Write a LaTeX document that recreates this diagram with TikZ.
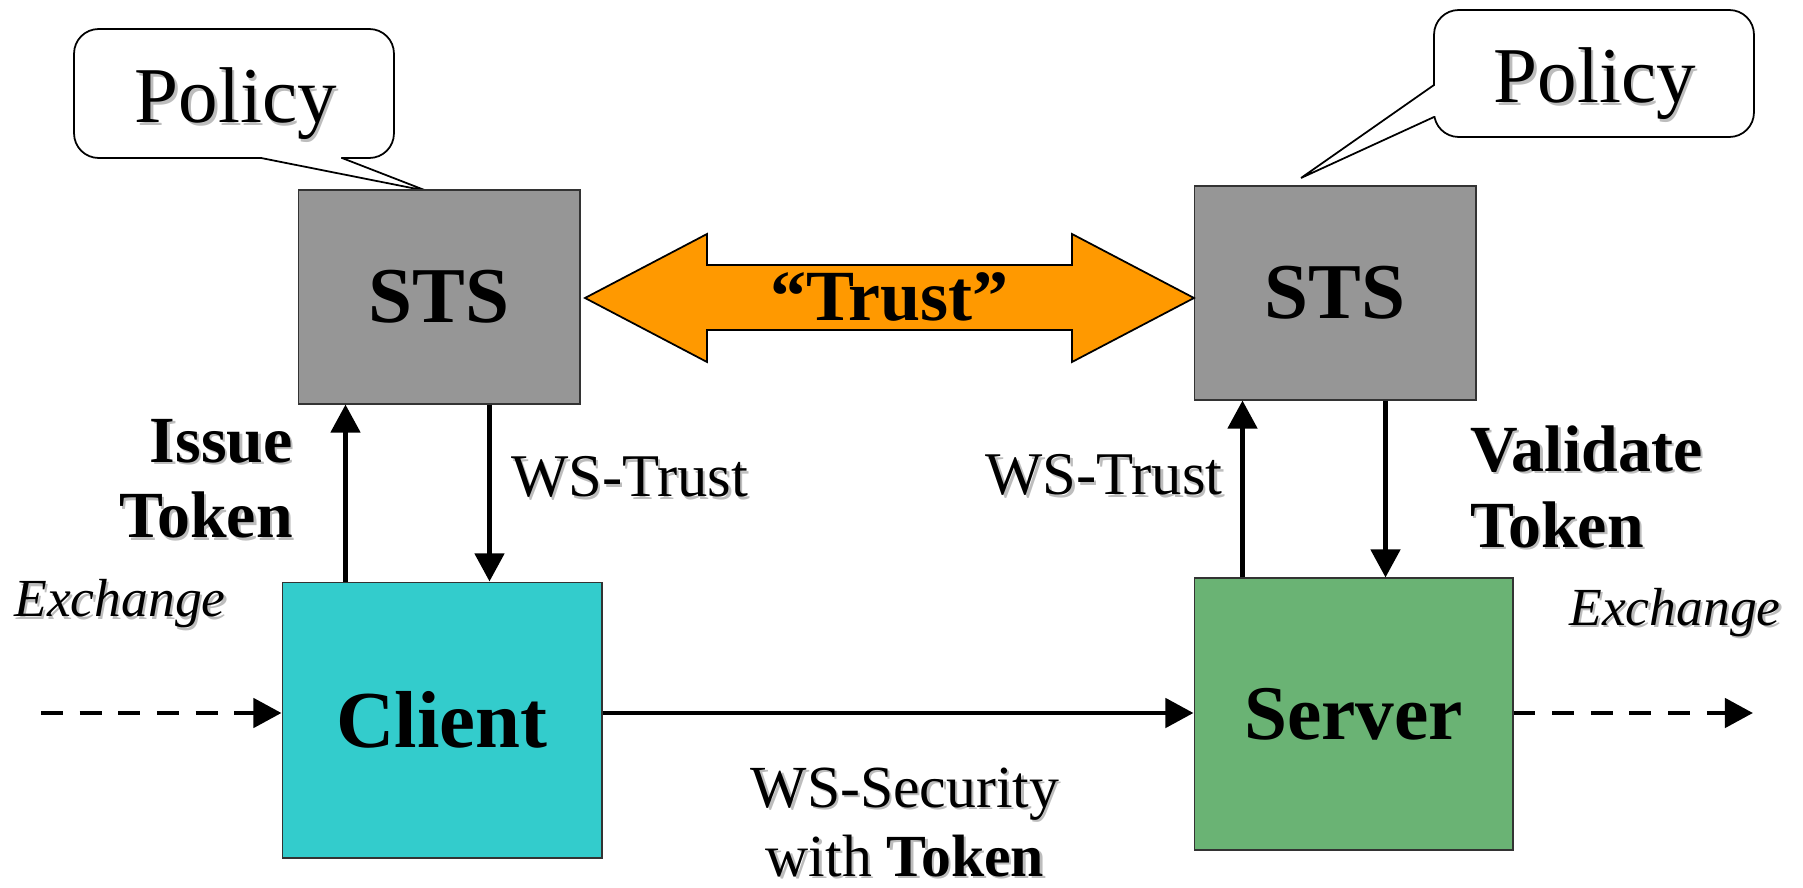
\documentclass[tikz,border=0pt]{standalone}
\usepackage{fontspec}
\setmainfont{Liberation Serif}
\usetikzlibrary{arrows.meta,calc}
\definecolor{stsgray}{HTML}{969696}
\definecolor{clientcyan}{HTML}{33CCCC}
\definecolor{servergreen}{HTML}{6AB374}
\definecolor{trustorange}{HTML}{FF9900}
\definecolor{shadowgray}{HTML}{BDBDBD}
% text with a soft grey drop shadow
\newcommand\shd[1]{\leavevmode\rlap{\kern1.3pt\raisebox{-1.3pt}{\textcolor{shadowgray}{#1}}}#1}
\begin{document}
\begin{tikzpicture}[x=0.02cm,y=-0.02cm,
  box/.style={draw=black!80, line width=0.6pt, inner sep=0pt},
  flow/.style={line width=2.8pt, -{Triangle[length=16pt,width=16.5pt]}},
  dashedflow/.style={flow, dash pattern=on 12.5pt off 9.5pt},
  callout/.style={draw, line width=1pt, fill=white, rounded corners=14pt, inner sep=0pt},
  lbl/.style={inner sep=0pt},
  big/.style={font=\fontsize{45}{54}\selectfont\bfseries},
  mid/.style={font=\fontsize{34.5}{43}\selectfont},
  boldlbl/.style={font=\fontsize{37.5}{43}\selectfont\bfseries},
  ital/.style={font=\fontsize{30.5}{40}\selectfont\itshape}]
\useasboundingbox (0,0) rectangle (1803,888);

% policy callouts
\node[callout, minimum width=6.4cm, minimum height=2.58cm] (polL) at (234,93.5) {};
\fill[white] (262,155) -- (262,160) -- (427,191) -- (341,160) -- (341,155) -- cycle;
\draw[line width=1pt, line join=miter] (261,158) -- (427,191) -- (342,158);
\node[lbl, anchor=base, font=\fontsize{45}{54}\selectfont] (polLtxt) at (236,123) {\shd{Policy}};

\node[callout, minimum width=6.4cm, minimum height=2.54cm] (polR) at (1594,73.5) {};
\fill[white] (1437,86) -- (1432,86) -- (1301,178) -- (1432,116) -- (1437,116) -- cycle;
\draw[line width=1pt, line join=miter] (1434,85) -- (1301,178) -- (1434,117);
\node[lbl, anchor=base, font=\fontsize{45}{54}\selectfont] (polRtxt) at (1595,103) {\shd{Policy}};

% token services, client and server
\node[box, big, fill=stsgray, minimum width=5.64cm, minimum height=4.28cm] (stsL) at (439,297) {STS};
\node[box, big, fill=stsgray, minimum width=5.64cm, minimum height=4.28cm] (stsR) at (1335,293) {STS};
\node[box, fill=clientcyan, minimum width=6.4cm, minimum height=5.52cm,
      font=\fontsize{46}{54}\selectfont\bfseries] (cli) at (442,720) {Client};
\node[box, fill=servergreen, minimum width=6.38cm, minimum height=5.44cm,
      font=\fontsize{44}{54}\selectfont\bfseries] (srv) at (1353.5,714) {Server};

% trust relation between the two STS
\draw[fill=trustorange, line width=1pt] (585,298) -- (707,234) -- (707,265) -- (1072,265)
  -- (1072,234) -- (1194,298) -- (1072,362) -- (1072,330) -- (707,330) -- (707,362) -- cycle;
\node[lbl, font=\fontsize{41}{48}\selectfont\bfseries] (trust) at (889.5,297) {“Trust”};

% WS-Trust exchanges
\draw[flow] ($(cli.north west)+(64,0)$) coordinate (a) -- (a |- stsL.south);
\draw[flow] ($(stsL.south west)+(192,0)$) coordinate (b) -- (b |- cli.north);
\draw[flow] ($(srv.north west)+(49,0)$) coordinate (c) -- (c |- stsR.south);
\draw[flow] ($(stsR.south west)+(192,0)$) coordinate (d) -- (d |- srv.north);

% message flow
\coordinate (exIn) at (41,713);
\coordinate (exOut) at (1753,713);
\draw[dashedflow] (exIn) -- (exIn -| cli.west);
\draw[flow] (exIn -| cli.east) -- (exIn -| srv.west);
\draw[dashedflow] (exIn -| srv.east) -- (exOut);

% labels (base anchor of a multi-line node sits on its last line)
\node[lbl, boldlbl, anchor=base east, align=right] (issue) at (293,538) {\shd{Issue}\\\shd{Token}};
\node[lbl, mid, anchor=base west] (wstL) at (511,497) {\shd{WS-Trust}};
\node[lbl, mid, anchor=base east] (wstR) at (1223,495) {\shd{WS-Trust}};
\node[lbl, boldlbl, anchor=base west, align=left] (valid) at (1470,547) {\shd{Validate}\\\shd{Token}};
\node[lbl, ital, anchor=base west] (exL) at (14,617) {\shd{Exchange}};
\node[lbl, ital, anchor=base east] (exR) at (1781,625) {\shd{Exchange}};
\node[lbl, anchor=base, align=center, font=\fontsize{34}{39}\selectfont] (wss) at (905,876) {\shd{WS-Security}\\\shd{with \textbf{Token}}};
\end{tikzpicture}
\end{document}
